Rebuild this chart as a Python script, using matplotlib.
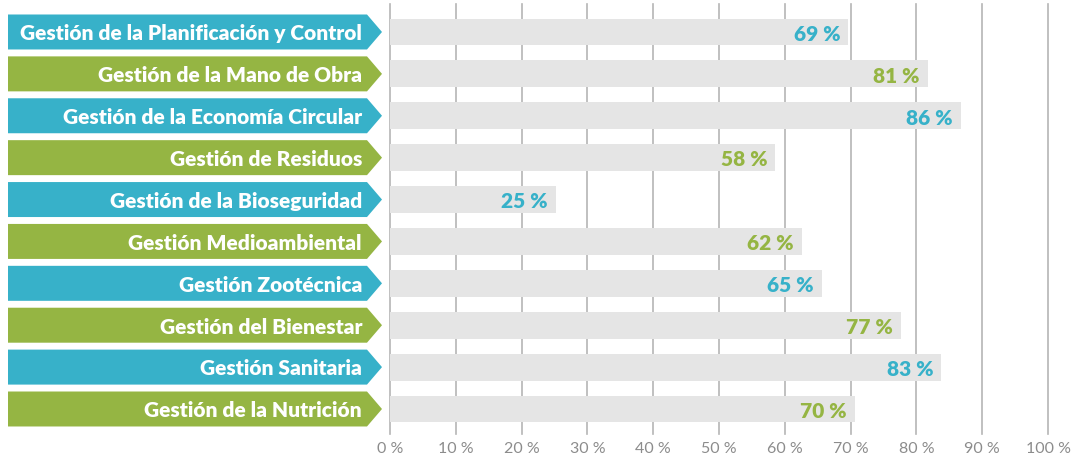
import matplotlib
matplotlib.use("Agg")
import matplotlib.pyplot as plt
from matplotlib.patches import Polygon

# datos
categorias = [
    "Gestión de la Planificación y Control",
    "Gestión de la Mano de Obra",
    "Gestión de la Economía Circular",
    "Gestión de Residuos",
    "Gestión de la Bioseguridad",
    "Gestión Medioambiental",
    "Gestión Zootécnica",
    "Gestión del Bienestar",
    "Gestión Sanitaria",
    "Gestión de la Nutrición",
]
valores = [69, 81, 86, 58, 25, 62, 65, 77, 83, 70]
ticks = [0, 10, 20, 30, 40, 50, 60, 70, 80, 90, 100]
tick_labels = [f"{t} %" for t in ticks]

AZUL = "#37b1c9"
VERDE = "#95b543"
GRIS = "#e5e5e5"
colores = [AZUL if i % 2 == 0 else VERDE for i in range(len(categorias))]

plt.rcParams["font.family"] = ["Lato", "DejaVu Sans"]

W, H = 1081, 456
fig = plt.figure(figsize=(W / 100, H / 100), dpi=100)

top_px, bot_px = 5, 435
ylim = (9.597, -0.668)
pos_y = (H - bot_px) / H
alt = (bot_px - top_px) / H

# eje de barras (escala un poco mayor que la rejilla, como en el original)
ax = fig.add_axes([390 / W, pos_y, (1048 - 390) / W, alt])
ax.set_xlim(0, 99.1)
ax.set_ylim(*ylim)
for t in ticks:
    ax.axvline(t * 0.991, color="#b5b5b5", lw=1.2, zorder=0, clip_on=False)
n = len(categorias)
ax.barh(range(n), valores, height=0.64, color=GRIS, zorder=2)
for i, v in enumerate(valores):
    ax.text(v - 1.2, i + 0.03, f"{v} %", ha="right", va="center",
            color=colores[i], fontsize=15, fontweight="heavy", zorder=3)
for s in ax.spines.values():
    s.set_visible(False)
ax.set_yticks([])
ax.set_xticks([t * 0.991 for t in ticks])
ax.set_xticklabels(tick_labels, color="#8c8c8c", fontsize=11.5)
ax.tick_params(axis="x", length=0, pad=5)

# eje de etiquetas (flechas)
axl = fig.add_axes([0, pos_y, 390 / W, alt])
axl.set_xlim(0, 390)
axl.set_ylim(*ylim)
axl.axis("off")
h = 0.835 / 2
for i, cat in enumerate(categorias):
    pts = [(8, i - h), (367, i - h), (382, i), (367, i + h), (8, i + h)]
    axl.add_patch(Polygon(pts, closed=True, color=colores[i], lw=0))
    axl.text(362, i + 0.02, cat, ha="right", va="center", color="white",
             fontsize=15, fontweight="heavy")

fig.savefig("out.png", dpi=100)
